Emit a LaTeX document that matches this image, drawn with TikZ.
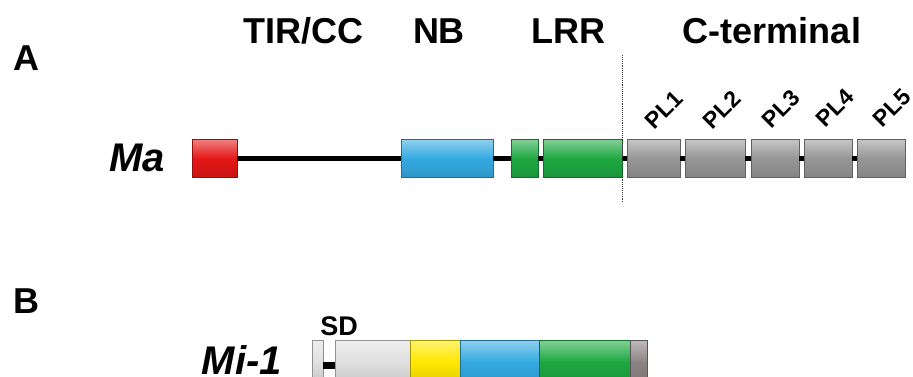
\documentclass[tikz,border=0pt]{standalone}
\usepackage{fontspec}
\setmainfont{Liberation Sans}
\definecolor{dred}{RGB}{228,22,22}
\definecolor{dblue}{RGB}{52,170,226}
\definecolor{dgreen}{RGB}{30,168,66}
\definecolor{dgray}{RGB}{150,150,150}
\definecolor{dyellow}{RGB}{255,232,0}
\definecolor{dlight}{RGB}{224,224,224}
\definecolor{ddark}{RGB}{140,132,132}
\tikzset{
  dom/.style={draw=#1!65!black, line width=0.8pt, inner sep=0pt, outer sep=0pt,
    top color=#1!55!white, bottom color=#1!88!black, middle color=#1},
  conn/.style={line width=5pt, black},
  hdr/.style={font=\bfseries\fontsize{36}{36}\selectfont, inner sep=0pt},
  gene/.style={font=\bfseries\itshape\fontsize{40}{40}\selectfont, inner sep=0pt},
  pl/.style={font=\bfseries\fontsize{23}{23}\selectfont, inner sep=0pt, rotate=45},
  sdl/.style={font=\bfseries\fontsize{27}{27}\selectfont, inner sep=0pt}
}
\begin{document}
\begin{tikzpicture}[x=1pt,y=-1pt]
\useasboundingbox (0,0) rectangle (913,376);
\clip (0,0) rectangle (913,376);

% headers
\node[hdr, anchor=base] (tir) at (303,43) {TIR/CC};
\node[hdr, anchor=base] (nb) at (439,43) {NB};
\node[hdr, anchor=base] (lrr) at (568,43) {LRR};
\node[hdr, anchor=base] (cterm) at (772,43) {C-terminal};
\node[hdr, anchor=base west] (labA) at (13,70) {A};
\node[hdr, anchor=base west] (labB) at (13,313) {B};

% row A
\node[gene, anchor=base east] (ma) at (165,171) {Ma};
\node[dom=dred, minimum width=45pt, minimum height=38pt] (red) at (214.5,158.5) {};
\node[dom=dblue, minimum width=92pt, minimum height=38pt] (blue) at (447,158.5) {};
\node[dom=dgreen, minimum width=27pt, minimum height=38pt] (g1) at (524.5,158.5) {};
\node[dom=dgreen, minimum width=79pt, minimum height=38pt] (g2) at (582.5,158.5) {};
\node[dom=dgray, minimum width=53pt, minimum height=38pt] (p1) at (653.5,158.5) {};
\node[dom=dgray, minimum width=60pt, minimum height=38pt] (p2) at (715,158.5) {};
\node[dom=dgray, minimum width=48pt, minimum height=38pt] (p3) at (775,158.5) {};
\node[dom=dgray, minimum width=48pt, minimum height=38pt] (p4) at (828,158.5) {};
\node[dom=dgray, minimum width=48pt, minimum height=38pt] (p5) at (881,158.5) {};
\draw[conn] (red.east) -- (blue.west);
\draw[conn] (blue.east) -- (g1.west);
\draw[conn] (g1.east) -- (g2.west);
\draw[conn] (g2.east) -- (p1.west);
\draw[conn] (p1.east) -- (p2.west);
\draw[conn] (p2.east) -- (p3.west);
\draw[conn] (p3.east) -- (p4.west);
\draw[conn] (p4.east) -- (p5.west);

\node[pl] (pl1) at (664,110) {PL1};
\node[pl] (pl2) at (722,110) {PL2};
\node[pl] (pl3) at (781,109) {PL3};
\node[pl] (pl4) at (835,108) {PL4};
\node[pl] (pl5) at (892,108) {PL5};

\coordinate (divtop) at (622,55);
\coordinate (divbot) at (622,202);
\draw[densely dotted, line width=0.9pt, black!75] (divtop) -- (divbot);

% row B
\node[gene, anchor=base east] (mi) at (282,374) {Mi-1};
\node[sdl, anchor=base] (sd) at (339,335) {SD};
\node[dom=dlight, minimum width=11pt, minimum height=44pt] (s0) at (317.5,362) {};
\node[dom=dlight, minimum width=75pt, minimum height=44pt] (sdb) at (372.5,362) {};
\node[dom=dyellow, minimum width=50pt, minimum height=44pt] (ye) at (435,362) {};
\node[dom=dblue, minimum width=79pt, minimum height=44pt] (bl2) at (499.5,362) {};
\node[dom=dgreen, minimum width=91pt, minimum height=44pt] (gr2) at (584.5,362) {};
\node[dom=ddark, minimum width=17pt, minimum height=44pt] (dk) at (638.5,362) {};
\draw[line width=7pt, black] ([yshift=-3pt]s0.east) -- ([yshift=-3pt]s0.east -| sdb.west);
\end{tikzpicture}
\end{document}
